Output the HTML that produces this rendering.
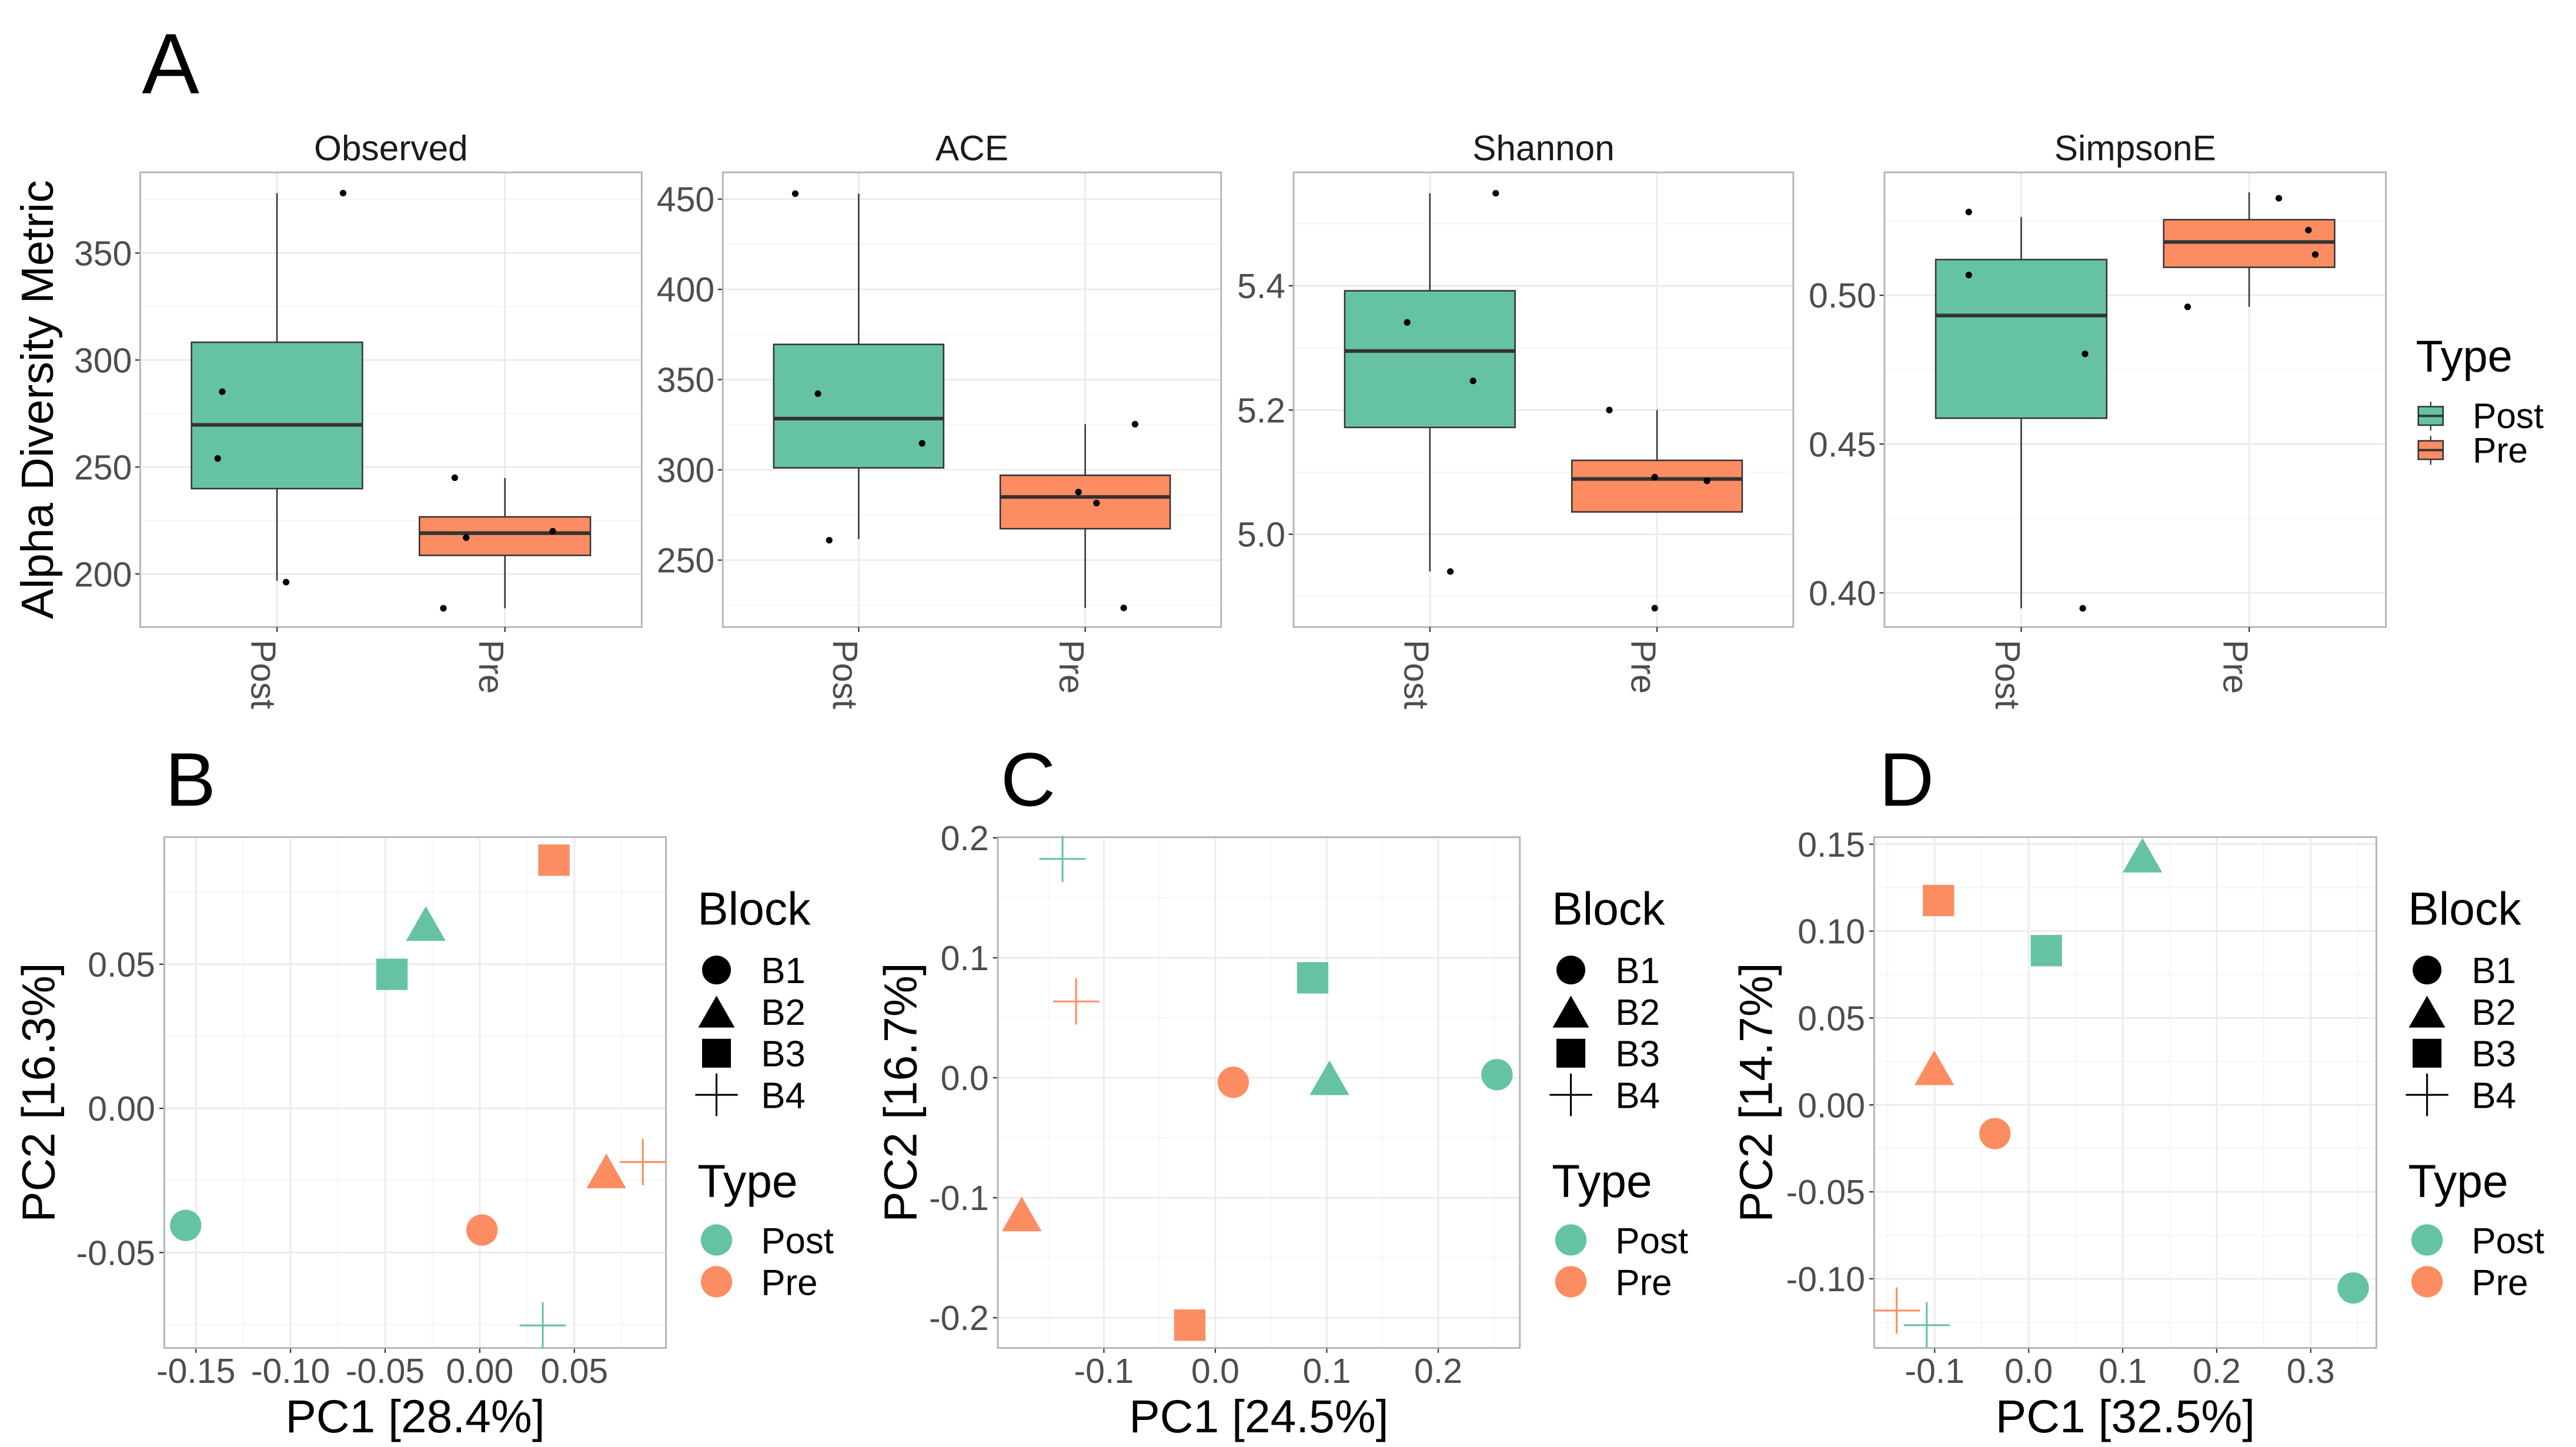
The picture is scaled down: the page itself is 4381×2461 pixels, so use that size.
<!DOCTYPE html>
<html><head><meta charset="utf-8"><style>
html,body{margin:0;padding:0;background:#fff;}
svg{display:block;font-family:"Liberation Sans",Arial,sans-serif;}
</style></head><body>
<svg id="fig" xmlns="http://www.w3.org/2000/svg" width="4381" height="2461" viewBox="0 0 1560 876.4" preserveAspectRatio="none"></svg>
<script>
// ---------- Panel A data ----------
const metrics = ["Observed","ACE","Shannon","SimpsonE"];
const groups = ["Post","Pre"];
const yTicksObserved = [200,250,300,350];
const yTicksACE = [250,300,350,400,450];
const yTicksShannon = [5.0,5.2,5.4];
const yTicksSimpson = [0.40,0.45,0.50];
const yTickLabelsShannon = ["5.0","5.2","5.4"];
const yTickLabelsSimpson = ["0.40","0.45","0.50"];
const statsObservedPost = [196.8,239.9,269.7,308.3,378];
const statsObservedPre  = [184,208.7,219.1,226.7,244.9];
const statsACEPost = [261.7,301.1,328.4,369.5,453];
const statsACEPre  = [223.5,267.4,285,297,325.3];
const statsShannonPost = [4.94,5.172,5.295,5.392,5.549];
const statsShannonPre  = [5.036,5.036,5.089,5.119,5.2];
const statsSimpsonPost = [0.3948,0.4587,0.4932,0.512,0.5263];
const statsSimpsonPre  = [0.4961,0.5094,0.5179,0.5254,0.5346];
const ptsObservedPost = [378,285.2,254,196.2];
const ptsObservedPre  = [245,184,217,220];
const ptsACEPost = [453,342.2,314.7,261];
const ptsACEPre  = [325.3,287.7,281.6,223.5];
const ptsShannonPost = [5.549,5.341,5.247,4.94];
const ptsShannonPre  = [5.2,5.092,5.086,4.881];
const ptsSimpsonPost = [0.528,0.5068,0.4803,0.3948];
const ptsSimpsonPre  = [0.5326,0.5219,0.5137,0.4961];
const jitObservedPost = [0.29,-0.24,-0.26,0.04];
const jitObservedPre  = [-0.22,-0.27,-0.17,0.21];
const jitACEPost = [-0.28,-0.18,0.28,-0.13];
const jitACEPre  = [0.22,-0.03,0.05,0.17];
const jitShannonPost = [0.29,-0.10,0.19,0.09];
const jitShannonPre  = [-0.21,-0.01,0.22,-0.01];
const jitSimpsonPost = [-0.23,-0.23,0.28,0.27];
const jitSimpsonPre  = [0.13,0.26,0.29,-0.27];

// ---------- PCoA data ----------
const pcTypes  = ["Post","Post","Post","Post","Pre","Pre","Pre","Pre"];
const pcBlocks = ["B1","B2","B3","B4","B1","B2","B3","B4"];
const pcBx = [-0.1554,-0.0285,-0.0464,0.0333, 0.0012,0.0669,0.0392,0.0862];
const pcBy = [-0.0406,0.0641,0.0465,-0.0753, -0.0422,-0.0217,0.0861,-0.0186];
const pcCx = [0.2527,0.1024,0.0873,-0.1371, 0.0161,-0.1737,-0.0229,-0.1249];
const pcCy = [0.0026,0.0,0.0833,0.1824, -0.0038,-0.1135,-0.2062,0.0636];
const pcDx = [0.3452,0.121,0.0188,-0.1084, -0.0359,-0.1004,-0.0959,-0.1404];
const pcDy = [-0.1053,0.1437,0.0888,-0.1267, -0.0165,0.0214,0.1176,-0.1183];
const xTicksB = [-0.15,-0.10,-0.05,0.00,0.05];
const xTickLabelsB = ["-0.15","-0.10","-0.05","0.00","0.05"];
const yTicksB = [-0.05,0.00,0.05];
const yTickLabelsB = ["-0.05","0.00","0.05"];
const xTicksC = [-0.1,0.0,0.1,0.2];
const xTickLabelsC = ["-0.1","0.0","0.1","0.2"];
const yTicksC = [-0.2,-0.1,0.0,0.1,0.2];
const yTickLabelsC = ["-0.2","-0.1","0.0","0.1","0.2"];
const xTicksD = [-0.1,0.0,0.1,0.2,0.3];
const xTickLabelsD = ["-0.1","0.0","0.1","0.2","0.3"];
const yTicksD = [-0.10,-0.05,0.00,0.05,0.10,0.15];
const yTickLabelsD = ["-0.10","-0.05","0.00","0.05","0.10","0.15"];

const COL = {Post:"#66c2a5", Pre:"#fc8d62"};
const NS = "http://www.w3.org/2000/svg";
const svg = document.getElementById("fig");
function el(tag, attrs, parent){
  const e = document.createElementNS(NS, tag);
  for (const k in attrs) e.setAttribute(k, attrs[k]);
  (parent||svg).appendChild(e);
  return e;
}
function txt(s, attrs, parent){ const t = el("text", attrs, parent); t.textContent = s; return t; }

// ---------- Panel A ----------
const aPanels = [
  {name:"Observed", x0:84.9, x1:388.6, dom:[175.2,387.7], ticks:yTicksObserved, labels:yTicksObserved.map(String), post:statsObservedPost, pre:statsObservedPre, pp:ptsObservedPost, pr:ptsObservedPre, jp:jitObservedPost, jr:jitObservedPre},
  {name:"ACE", x0:437.7, x1:739.5, dom:[212.9,464.8], ticks:yTicksACE, labels:yTicksACE.map(String), post:statsACEPost, pre:statsACEPre, pp:ptsACEPost, pr:ptsACEPre, jp:jitACEPost, jr:jitACEPre},
  {name:"Shannon", x0:783.4, x1:1086, dom:[4.8506,5.5826], ticks:yTicksShannon, labels:yTickLabelsShannon, post:statsShannonPost, pre:statsShannonPre, pp:ptsShannonPost, pr:ptsShannonPre, jp:jitShannonPost, jr:jitShannonPre},
  {name:"SimpsonE", x0:1141.2, x1:1444.9, dom:[0.3885,0.5413], ticks:yTicksSimpson, labels:yTickLabelsSimpson, post:statsSimpsonPost, pre:statsSimpsonPre, pp:ptsSimpsonPost, pr:ptsSimpsonPre, jp:jitSimpsonPost, jr:jitSimpsonPre}
];
const aTop = 104.4, aBot = 379.8;
txt("A", {x:86, y:56.5, "font-size":52, fill:"#000",  });
const yt = txt("Alpha Diversity Metric", {x:0, y:0, "font-size":27.5, fill:"#000", "text-anchor":"middle", transform:"translate(32,242) rotate(-90)"});



aPanels.forEach((p) => {
  const g = el("g", {});
  
  
  const ys = v => aBot - (v - p.dom[0]) / (p.dom[1] - p.dom[0]) * (aBot - aTop);
  const unit = (p.x1 - p.x0) / 2.2;
  const xs = c => p.x0 + (c + 0.6) * unit;
  el("rect", {x:p.x0, y:aTop, width:p.x1-p.x0, height:aBot-aTop, fill:"#fff"}, g);
  // minor grid
  const step = p.ticks[1]-p.ticks[0];
  for (let v = p.ticks[0]-step/2; v <= p.dom[1]; v += step) {
    if (v < p.dom[0]) continue;
    el("line", {x1:p.x0, x2:p.x1, y1:ys(v), y2:ys(v), stroke:"#f4f4f4", "stroke-width":0.6}, g);
  }
  p.ticks.forEach((v,i) => {
    el("line", {x1:p.x0, x2:p.x1, y1:ys(v), y2:ys(v), stroke:"#ebebeb", "stroke-width":1}, g);
    el("line", {x1:p.x0-3, x2:p.x0, y1:ys(v), y2:ys(v), stroke:"#333", "stroke-width":0.8}, g);
    const t = txt(p.labels[i], {x:p.x0-5, y:ys(v)+7.5, "font-size":21, fill:"#4d4d4d", "text-anchor":"end"}, g);
    
    
  });
  groups.forEach((gr, c) => {
    el("line", {x1:xs(c), x2:xs(c), y1:aTop, y2:aBot, stroke:"#ebebeb", "stroke-width":1}, g);
  });
  // boxes
  [p.post, p.pre].forEach((s, c) => {
    const cx = xs(c), hw = 0.375*unit;
    const w = el("line", {x1:cx, x2:cx, y1:ys(s[0]), y2:ys(s[4]), stroke:"#333", "stroke-width":0.9}, g);
    
    
    const b = el("rect", {x:cx-hw, y:ys(s[3]), width:2*hw, height:ys(s[1])-ys(s[3]), fill:COL[groups[c]], stroke:"#333", "stroke-width":0.9}, g);
    
    
    el("line", {x1:cx-hw, x2:cx+hw, y1:ys(s[2]), y2:ys(s[2]), stroke:"#333", "stroke-width":2.2}, g);
  });
  // points
  [[p.pp,p.jp],[p.pr,p.jr]].forEach(([vals,jit], c) => {
    vals.forEach((v,i) => {
      const d = el("circle", {cx:xs(c)+jit[i]*unit, cy:ys(v), r:2, fill:"#000"}, g);
      
      
    });
  });
  el("rect", {x:p.x0, y:aTop, width:p.x1-p.x0, height:aBot-aTop, fill:"none", stroke:"#b3b3b3", "stroke-width":1}, g);
  groups.forEach((gr, c) => {
    el("line", {x1:xs(c), x2:xs(c), y1:aBot, y2:aBot+3, stroke:"#333", "stroke-width":0.8}, g);
    const t = txt(gr, {x:0, y:0, "font-size":21, fill:"#4d4d4d", transform:`translate(${xs(c)-15.5},387.5) rotate(90)`}, g);
    
    
  });
  const ft = txt(p.name, {x:(p.x0+p.x1)/2, y:97, "font-size":21.5, fill:"#1a1a1a", "text-anchor":"middle"}, g);
  
  
});
// legend A
{
  const g = el("g", {});
  
  
  txt("Type", {x:1463, y:225, "font-size":27, fill:"#000"}, g);
  groups.forEach((gr,i) => {
    const y0 = 246.3 + i*20.7;
    el("line", {x1:1472, x2:1472, y1:y0-3, y2:y0+14.5, stroke:"#333", "stroke-width":0.8}, g);
    el("rect", {x:1464.5, y:y0, width:15, height:11.2, fill:COL[gr], stroke:"#333", "stroke-width":0.9}, g);
    el("line", {x1:1464.5, x2:1479.5, y1:y0+5.6, y2:y0+5.6, stroke:"#333", "stroke-width":1.4}, g);
    const t = txt(gr, {x:1497.4, y:y0+13, "font-size":21.5, fill:"#000"}, g);
    
    
  });
}

// ---------- PCoA panels ----------
const top2 = 507.0, bot2 = 816.4;
const pcPanels = [
  {id:"b", label:"B", lx:100, x0:99.5, x1:403.3, xd:[-0.1667,0.0984], yd:[-0.0831,0.0941], xt:xTicksB, xl:xTickLabelsB, ytk:yTicksB, yl:yTickLabelsB, px:pcBx, py:pcBy, xtitle:"PC1 [28.4%]", ytitle:"PC2 [16.3%]", ytx:33, leg:422.4},
  {id:"c", label:"C", lx:606, x0:604.3, x1:920.4, xd:[-0.1951,0.2732], yd:[-0.2252,0.2006], xt:xTicksC, xl:xTickLabelsC, ytk:yTicksC, yl:yTickLabelsC, px:pcCx, py:pcCy, xtitle:"PC1 [24.5%]", ytitle:"PC2 [16.7%]", ytx:555, leg:939.8},
  {id:"d", label:"D", lx:1138, x0:1135, x1:1439.1, xd:[-0.1643,0.3698], yd:[-0.1398,0.1541], xt:xTicksD, xl:xTickLabelsD, ytk:yTicksD, yl:yTickLabelsD, px:pcDx, py:pcDy, xtitle:"PC1 [32.5%]", ytitle:"PC2 [14.7%]", ytx:1073, leg:1458.3}
];
function shape(g, block, cx, cy, color, scale){
  scale = scale || 1;
  let e;
  if (block === "B1") e = el("circle", {cx, cy, r:9.5*scale, fill:color}, g);
  else if (block === "B2") { const w=12*scale, h=10.5*scale; e = el("polygon", {points:`${cx},${cy-h} ${cx-w},${cy+h} ${cx+w},${cy+h}`, fill:color}, g); }
  else if (block === "B3") { const s=9.5*scale; e = el("rect", {x:cx-s, y:cy-s, width:2*s, height:2*s, fill:color}, g); }
  else { const s=14*scale; e = el("path", {d:`M${cx-s},${cy}H${cx+s}M${cx},${cy-s}V${cx===0?0:cy+s}`, stroke:color, "stroke-width":1.1, fill:"none"}, g); }
  return e;
}
pcPanels.forEach(p => {
  const g = el("g", {});
  
  
  const xs = v => p.x0 + (v - p.xd[0])/(p.xd[1]-p.xd[0])*(p.x1-p.x0);
  const ys = v => bot2 - (v - p.yd[0])/(p.yd[1]-p.yd[0])*(bot2-top2);
  txt(p.label, {x:p.lx, y:488, "font-size":46, fill:"#000"}, g);
  // minor grids
  const sx = p.xt[1]-p.xt[0], sy = p.ytk[1]-p.ytk[0];
  for (let v = p.xt[0]-sx/2; v < p.xd[1]; v += sx) if (v > p.xd[0]) el("line", {x1:xs(v),x2:xs(v),y1:top2,y2:bot2,stroke:"#f4f4f4","stroke-width":0.6}, g);
  for (let v = p.ytk[0]-sy/2; v < p.yd[1]; v += sy) if (v > p.yd[0]) el("line", {x1:p.x0,x2:p.x1,y1:ys(v),y2:ys(v),stroke:"#f4f4f4","stroke-width":0.6}, g);
  p.xt.forEach((v,i) => {
    el("line", {x1:xs(v),x2:xs(v),y1:top2,y2:bot2,stroke:"#ebebeb","stroke-width":1}, g);
    el("line", {x1:xs(v),x2:xs(v),y1:bot2,y2:bot2+3,stroke:"#333","stroke-width":0.8}, g);
    const t = txt(p.xl[i], {x:xs(v), y:837.5, "font-size":21, fill:"#4d4d4d", "text-anchor":"middle"}, g);
    
    
  });
  p.ytk.forEach((v,i) => {
    el("line", {x1:p.x0,x2:p.x1,y1:ys(v),y2:ys(v),stroke:"#ebebeb","stroke-width":1}, g);
    el("line", {x1:p.x0-3,x2:p.x0,y1:ys(v),y2:ys(v),stroke:"#333","stroke-width":0.8}, g);
    const t = txt(p.yl[i], {x:p.x0-5.5, y:ys(v)+7.5, "font-size":21, fill:"#4d4d4d", "text-anchor":"end"}, g);
    
    
  });
  el("rect", {x:p.x0, y:top2, width:p.x1-p.x0, height:bot2-top2, fill:"none", stroke:"#b3b3b3", "stroke-width":1}, g);
  p.px.forEach((v,i) => {
    const m = shape(g, pcBlocks[i], xs(v), ys(p.py[i]), COL[pcTypes[i]]);
    
    
  });
  const xt = txt(p.xtitle, {x:(p.x0+p.x1)/2, y:867.5, "font-size":28, fill:"#000", "text-anchor":"middle"}, g);
  
  
  const yt2 = txt(p.ytitle, {x:0, y:0, "font-size":28, fill:"#000", "text-anchor":"middle", transform:`translate(${p.ytx},${(top2+bot2)/2}) rotate(-90)`}, g);
  
  
  // legends
  const lg = el("g", {}, g);
  
  
  const kx = p.leg + 11.5, tx = p.leg + 38.5;
  txt("Block", {x:p.leg, y:560, "font-size":28, fill:"#000"}, lg);
  ["B1","B2","B3","B4"].forEach((b,i) => {
    const y = 587.5 + i*25.2;
    shape(lg, b, kx, y, "#000", 0.92);
    const t = txt(b, {x:tx, y:y+8, "font-size":22, fill:"#000"}, lg);
    
    
  });
  txt("Type", {x:p.leg, y:725, "font-size":28, fill:"#000"}, lg);
  groups.forEach((gr,i) => {
    const y = 751 + i*25.3;
    el("circle", {cx:kx, cy:y, r:9.5, fill:COL[gr]}, lg);
    const t = txt(gr, {x:tx, y:y+8, "font-size":22, fill:"#000"}, lg);
    
    
  });
});
</script>
</body></html>
